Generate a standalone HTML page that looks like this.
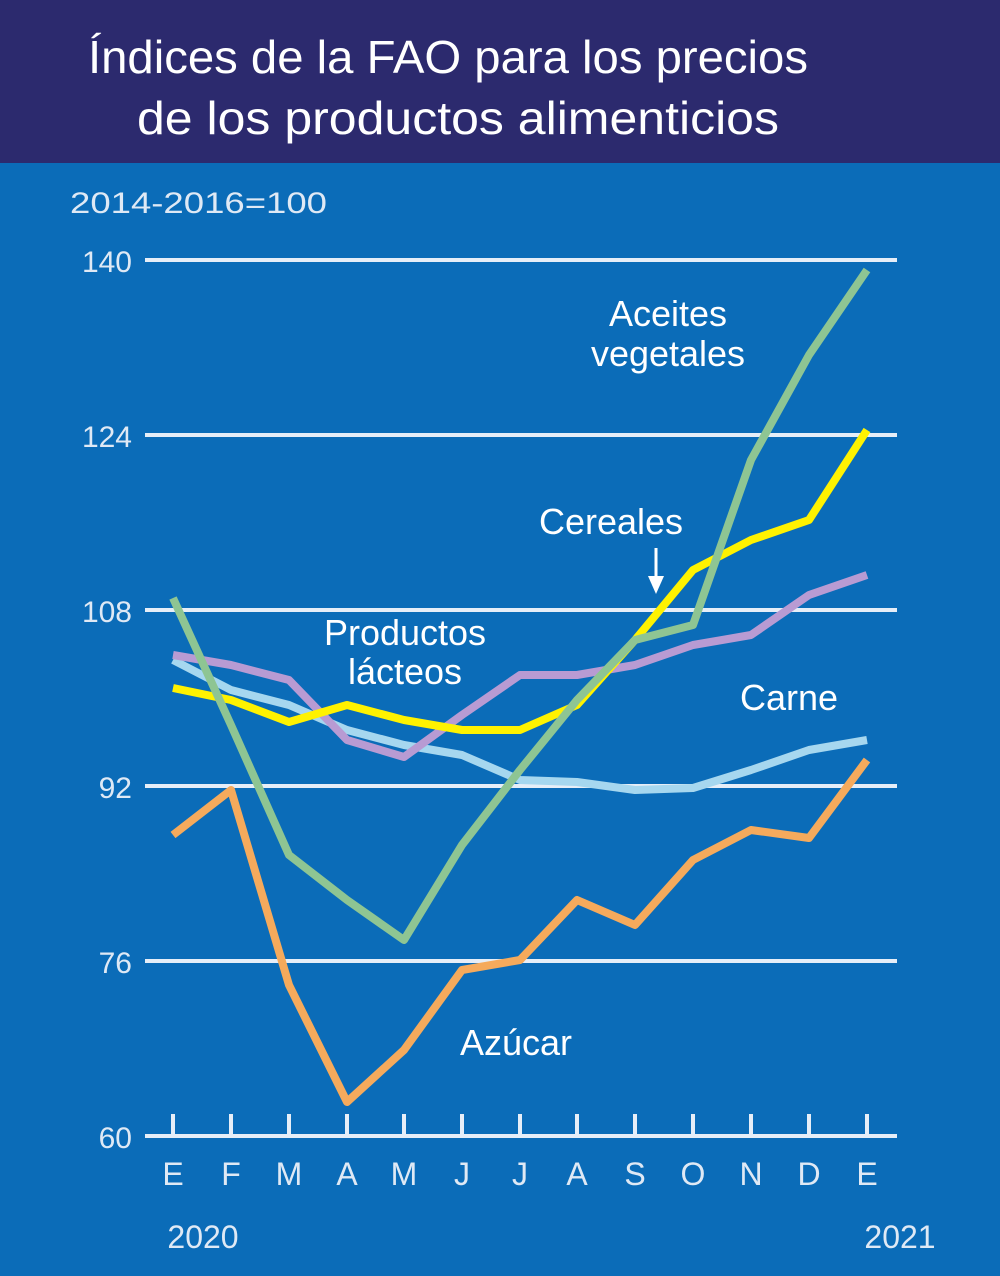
<!DOCTYPE html>
<html><head><meta charset="utf-8"><style>html,body{margin:0;padding:0;background:#fff}svg{display:block}</style></head>
<body>
<svg width="1000" height="1276" viewBox="0 0 1000 1276" xmlns="http://www.w3.org/2000/svg" font-family="Liberation Sans, DejaVu Sans, sans-serif">
<rect x="0" y="0" width="1000" height="1276" fill="#0b6cb8"/>
<rect x="0" y="0" width="1000" height="163" fill="#2c2a6e"/>
<text x="448" y="73" fill="#fff" font-size="46" text-anchor="middle" textLength="720" lengthAdjust="spacingAndGlyphs">Índices de la FAO para los precios</text>
<text x="458" y="134" fill="#fff" font-size="46" text-anchor="middle" textLength="642" lengthAdjust="spacingAndGlyphs">de los productos alimenticios</text>
<text x="70" y="213" fill="#dfe9f5" font-size="30" textLength="257" lengthAdjust="spacingAndGlyphs">2014-2016=100</text>
<g stroke="#e6eef8" stroke-width="4">
<line x1="145" y1="260" x2="897" y2="260"/><line x1="145" y1="435" x2="897" y2="435"/><line x1="145" y1="610" x2="897" y2="610"/><line x1="145" y1="786" x2="897" y2="786"/><line x1="145" y1="961" x2="897" y2="961"/><line x1="145" y1="1136" x2="897" y2="1136"/>
</g>
<g fill="#dfe9f5" font-size="30" text-anchor="end">
<text x="132" y="272">140</text><text x="132" y="447">124</text><text x="132" y="622">108</text><text x="132" y="798">92</text><text x="132" y="973">76</text><text x="132" y="1148">60</text>
</g>
<g stroke="#e6eef8" stroke-width="4">
<line x1="173" y1="1114" x2="173" y2="1136"/><line x1="231" y1="1114" x2="231" y2="1136"/><line x1="289" y1="1114" x2="289" y2="1136"/><line x1="347" y1="1114" x2="347" y2="1136"/><line x1="404" y1="1114" x2="404" y2="1136"/><line x1="462" y1="1114" x2="462" y2="1136"/><line x1="520" y1="1114" x2="520" y2="1136"/><line x1="577" y1="1114" x2="577" y2="1136"/><line x1="635" y1="1114" x2="635" y2="1136"/><line x1="693" y1="1114" x2="693" y2="1136"/><line x1="751" y1="1114" x2="751" y2="1136"/><line x1="809" y1="1114" x2="809" y2="1136"/><line x1="867" y1="1114" x2="867" y2="1136"/>
</g>
<g fill="#dfe9f5" font-size="32" text-anchor="middle">
<text x="173" y="1185">E</text><text x="231" y="1185">F</text><text x="289" y="1185">M</text><text x="347" y="1185">A</text><text x="404" y="1185">M</text><text x="462" y="1185">J</text><text x="520" y="1185">J</text><text x="577" y="1185">A</text><text x="635" y="1185">S</text><text x="693" y="1185">O</text><text x="751" y="1185">N</text><text x="809" y="1185">D</text><text x="867" y="1185">E</text>
<text x="203" y="1248">2020</text><text x="900" y="1248">2021</text>
</g>
<g fill="none" stroke-width="8" stroke-linejoin="round">
<polyline stroke="#f5aa5c" points="173,835 231,790 289,985 347,1102 404,1050 462,970 520,960 577,900 635,925 693,860 751,830 809,838 867,760"/>
<polyline stroke="#a6d7ef" points="173,660 231,690 289,705 347,730 404,745 462,755 520,780 577,782 635,790 693,788 751,770 809,750 867,740"/>
<polyline stroke="#b89bd3" points="173,655 231,665 289,680 347,740 404,757 462,715 520,675 577,675 635,665 693,645 751,635 809,595 867,575"/>
<polyline stroke="#fff200" points="173,688 231,700 289,722 347,705 404,720 462,730 520,730 577,705 635,640 693,570 751,540 809,520 867,430"/>
<polyline stroke="#8ec593" points="173,598 231,725 289,855 347,900 404,940 462,845 520,770 577,700 635,640 693,625 751,460 809,355 867,270"/>
</g>
<g fill="#fff" font-size="36" text-anchor="middle">
<text x="668" y="326">Aceites</text><text x="668" y="366">vegetales</text>
<text x="611" y="534">Cereales</text>
<text x="405" y="645">Productos</text><text x="405" y="684">lácteos</text>
<text x="789" y="710">Carne</text>
<text x="516" y="1055">Azúcar</text>
</g>
<line x1="656" y1="548" x2="656" y2="580" stroke="#fff" stroke-width="3"/>
<polygon points="648,576 664,576 656,594" fill="#fff"/>
</svg>
</body></html>
